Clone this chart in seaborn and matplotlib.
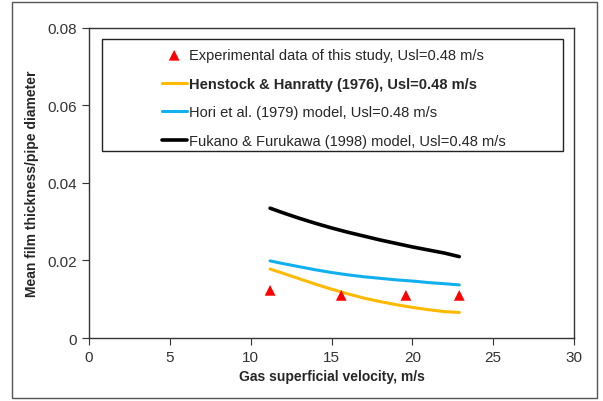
import pandas as pd
import matplotlib.pyplot as plt
import seaborn as sns
from matplotlib.patches import Rectangle

sns.set_style("ticks")
plt.rcParams["font.family"] = ["Liberation Sans", "DejaVu Sans"]

# Experimental data
exp_x = [11.2, 15.6, 19.6, 22.9]
exp_y = [0.0123, 0.0110, 0.0110, 0.0110]

# Model curves
model_x = [11.2, 12, 13, 14, 15, 16, 17, 18, 19, 20, 21, 22, 22.9]
henstock_y = [0.0178, 0.0167, 0.0153, 0.0139, 0.0126, 0.0114, 0.0103,
              0.0094, 0.0086, 0.0079, 0.0073, 0.0068, 0.0066]
hori_y = [0.0199, 0.0192, 0.0184, 0.0176, 0.0169, 0.0163, 0.0158,
          0.0154, 0.0150, 0.0147, 0.0143, 0.0140, 0.0137]
fukano_y = [0.0335, 0.0323, 0.0309, 0.0296, 0.0284, 0.0273, 0.0263,
            0.0253, 0.0244, 0.0235, 0.0227, 0.0219, 0.0210]

fig = plt.figure(figsize=(6.03, 4.02), dpi=100)
ax = fig.add_axes([0.1476, 0.1567, 0.8044, 0.7713])

sns.scatterplot(x=exp_x, y=exp_y, marker="^", color="#ff0000", s=60, edgecolor="none",
                ax=ax, label="Experimental data of this study, Usl=0.48 m/s", zorder=5)
sns.lineplot(x=model_x, y=henstock_y, color="#ffba00", lw=2.2, ax=ax,
             label="Henstock & Hanratty (1976), Usl=0.48 m/s")
sns.lineplot(x=model_x, y=hori_y, color="#10b0ee", lw=2.2, ax=ax,
             label="Hori et al. (1979) model, Usl=0.48 m/s")
sns.lineplot(x=model_x, y=fukano_y, color="black", lw=2.6, ax=ax,
             label="Fukano & Furukawa (1998) model, Usl=0.48 m/s")

ax.set_xlim(0, 30)
ax.set_ylim(0, 0.08)
ax.set_xticks([0, 5, 10, 15, 20, 25, 30])
ax.set_yticks([0, 0.02, 0.04, 0.06, 0.08])
ax.set_yticklabels(["0", "0.02", "0.04", "0.06", "0.08"])
ax.tick_params(labelsize=11, colors="#333333", direction="out", length=5)
for s in ax.spines.values():
    s.set_color("#333333")
    s.set_linewidth(1.0)

ax.set_xlabel("Gas superficial velocity, m/s", fontsize=10, fontweight="bold", labelpad=4)
ax.set_ylabel("Mean film thickness/pipe diameter", fontsize=10, fontweight="bold", labelpad=6)

leg = ax.legend(loc="upper left", bbox_to_anchor=(0.150, 0.935), frameon=False,
                fontsize=10.5, handlelength=1.7, handletextpad=0.2, labelspacing=1.0,
                borderpad=0, borderaxespad=0)
leg.get_texts()[1].set_fontweight("bold")

# legend box
ax.add_patch(Rectangle((0.027, 0.603), 0.950, 0.3615, transform=ax.transAxes,
                       fill=False, edgecolor="#222222", lw=1.0, zorder=6))

# outer frame around figure
fig.patches.append(Rectangle((0.02, 0.008), 0.97, 0.985, transform=fig.transFigure,
                             fill=False, edgecolor="#555555", lw=1.0))

fig.savefig("out.png", dpi=100)
